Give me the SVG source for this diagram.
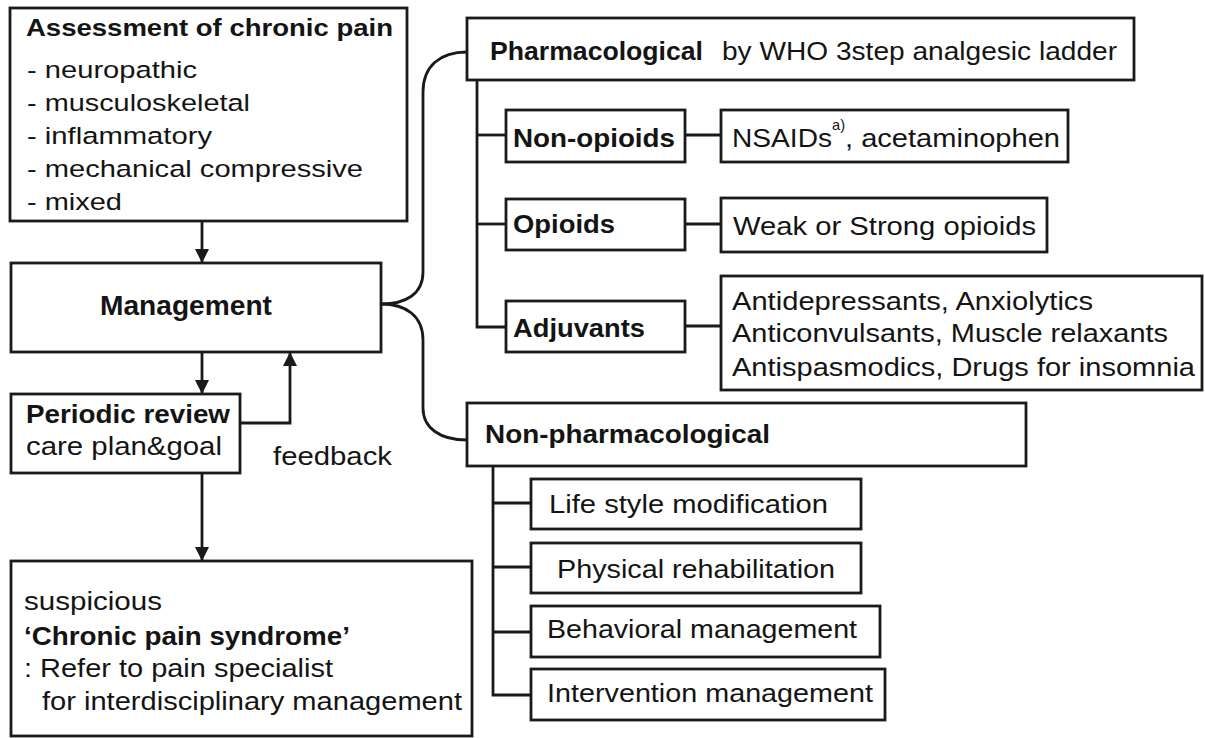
<svg xmlns="http://www.w3.org/2000/svg" width="1205" height="738" viewBox="0 0 1205 738">
<style>
  .box{fill:#fff;stroke:#1a1a1a;stroke-width:2.8}
  .ln{fill:none;stroke:#1a1a1a;stroke-width:2.8}
  text{font-family:"Liberation Sans",Arial,Helvetica,sans-serif;font-size:26px;fill:#141414}
  .b{font-weight:bold}
  .s{font-size:24.5px}
  .m{font-size:27px}
  .sup{font-size:15px}
</style>
<defs>
  <marker id="arr" markerUnits="userSpaceOnUse" markerWidth="14" markerHeight="16" refX="14" refY="7" orient="auto">
    <path d="M0,0 L14,7 L0,14 Z" fill="#1a1a1a"/>
  </marker>
</defs>
<rect width="1205" height="738" fill="#fff"/>

<g id="connectors">
  <line class="ln" x1="202" y1="221" x2="202" y2="263" marker-end="url(#arr)"/>
  <line class="ln" x1="202" y1="352" x2="202" y2="394" marker-end="url(#arr)"/>
  <line class="ln" x1="202" y1="473" x2="202" y2="561" marker-end="url(#arr)"/>
  <path class="ln" d="M240,423 L290,423 L290,352" marker-end="url(#arr)"/>
  <path class="ln" d="M381,304 C406,304 423,294 423,272 L423,92 C423,66 440,52 467,52"/>
  <path class="ln" d="M381,304 C406,304 423,316 423,340 L423,408 C423,428 440,440 467,440"/>
  <path class="ln" d="M477,80 L477,327 L506,327"/>
  <line class="ln" x1="477" y1="135" x2="506" y2="135"/>
  <line class="ln" x1="477" y1="224" x2="506" y2="224"/>
  <line class="ln" x1="685" y1="135" x2="721" y2="135"/>
  <line class="ln" x1="685" y1="224" x2="721" y2="224"/>
  <line class="ln" x1="685" y1="326" x2="721" y2="326"/>
  <path class="ln" d="M493,466 L493,695 L531,695"/>
  <line class="ln" x1="493" y1="503" x2="531" y2="503"/>
  <line class="ln" x1="493" y1="567" x2="531" y2="567"/>
  <line class="ln" x1="493" y1="632" x2="531" y2="632"/>
</g>

<g id="assessment">
  <rect class="box" x="10" y="8" width="397" height="213"/>
  <text class="b s" x="26" y="36" textLength="367" lengthAdjust="spacingAndGlyphs">Assessment of chronic pain</text>
  <text class="s" x="27" y="78" textLength="170" lengthAdjust="spacingAndGlyphs">- neuropathic</text>
  <text class="s" x="27" y="111" textLength="223" lengthAdjust="spacingAndGlyphs">- musculoskeletal</text>
  <text class="s" x="27" y="144" textLength="185" lengthAdjust="spacingAndGlyphs">- inflammatory</text>
  <text class="s" x="27" y="177" textLength="336" lengthAdjust="spacingAndGlyphs">- mechanical compressive</text>
  <text class="s" x="27" y="210" textLength="95" lengthAdjust="spacingAndGlyphs">- mixed</text>
</g>

<g id="management">
  <rect class="box" x="11" y="263" width="370" height="89"/>
  <text class="b m" x="100" y="315" textLength="172" lengthAdjust="spacingAndGlyphs">Management</text>
</g>

<g id="periodic-review">
  <rect class="box" x="11" y="394" width="229" height="79"/>
  <text class="b" x="26" y="423" textLength="204" lengthAdjust="spacingAndGlyphs">Periodic review</text>
  <text x="26" y="455" textLength="196" lengthAdjust="spacingAndGlyphs">care plan&amp;goal</text>
</g>

<g id="feedback-label">
  <text x="273" y="465" textLength="119" lengthAdjust="spacingAndGlyphs">feedback</text>
</g>

<g id="chronic-pain-syndrome">
  <rect class="box" x="11" y="561" width="461" height="175"/>
  <text x="24" y="610" textLength="138" lengthAdjust="spacingAndGlyphs">suspicious</text>
  <text class="b" x="24" y="645" textLength="326" lengthAdjust="spacingAndGlyphs">‘Chronic pain syndrome’</text>
  <text x="24" y="677" textLength="309" lengthAdjust="spacingAndGlyphs">: Refer to pain specialist</text>
  <text x="42" y="710" textLength="420" lengthAdjust="spacingAndGlyphs">for interdisciplinary management</text>
</g>

<g id="pharmacological">
  <rect class="box" x="467" y="18" width="667" height="62"/>
  <text class="b" x="490" y="60" textLength="213" lengthAdjust="spacingAndGlyphs">Pharmacological</text>
  <text x="722" y="60" textLength="395" lengthAdjust="spacingAndGlyphs">by WHO 3step analgesic ladder</text>
</g>

<g id="non-opioids">
  <rect class="box" x="506" y="110" width="179" height="52"/>
  <text class="b" x="513" y="147" textLength="162" lengthAdjust="spacingAndGlyphs">Non-opioids</text>
</g>

<g id="nsaids">
  <rect class="box" x="721" y="110" width="347" height="52"/>
  <text x="732" y="147" textLength="100" lengthAdjust="spacingAndGlyphs">NSAIDs</text>
  <text class="sup" x="832" y="130" textLength="13" lengthAdjust="spacingAndGlyphs">a)</text>
  <text x="845" y="147" textLength="215" lengthAdjust="spacingAndGlyphs">, acetaminophen</text>
</g>

<g id="opioids">
  <rect class="box" x="506" y="199" width="179" height="51"/>
  <text class="b" x="513" y="233" textLength="102" lengthAdjust="spacingAndGlyphs">Opioids</text>
</g>

<g id="weak-strong">
  <rect class="box" x="721" y="198" width="326" height="54"/>
  <text x="733" y="235" textLength="303" lengthAdjust="spacingAndGlyphs">Weak or Strong opioids</text>
</g>

<g id="adjuvants">
  <rect class="box" x="506" y="301" width="179" height="51"/>
  <text class="b" x="513" y="337" textLength="132" lengthAdjust="spacingAndGlyphs">Adjuvants</text>
</g>

<g id="adjuvant-drugs">
  <rect class="box" x="721" y="276" width="481" height="114"/>
  <text x="732" y="310" textLength="361" lengthAdjust="spacingAndGlyphs">Antidepressants, Anxiolytics</text>
  <text x="732" y="342" textLength="436" lengthAdjust="spacingAndGlyphs">Anticonvulsants, Muscle relaxants</text>
  <text x="732" y="376" textLength="463" lengthAdjust="spacingAndGlyphs">Antispasmodics, Drugs for insomnia</text>
</g>

<g id="non-pharmacological">
  <rect class="box" x="467" y="403" width="559" height="63"/>
  <text class="b" x="485" y="443" textLength="285" lengthAdjust="spacingAndGlyphs">Non-pharmacological</text>
</g>

<g id="life-style">
  <rect class="box" x="531" y="479" width="330" height="50"/>
  <text x="549" y="513" textLength="279" lengthAdjust="spacingAndGlyphs">Life style modification</text>
</g>

<g id="physical">
  <rect class="box" x="531" y="543" width="330" height="50"/>
  <text x="557" y="578" textLength="278" lengthAdjust="spacingAndGlyphs">Physical rehabilitation</text>
</g>

<g id="behavioral">
  <rect class="box" x="531" y="606" width="349" height="51"/>
  <text x="547" y="638" textLength="310" lengthAdjust="spacingAndGlyphs">Behavioral management</text>
</g>

<g id="intervention">
  <rect class="box" x="531" y="669" width="354" height="51"/>
  <text x="547" y="702" textLength="326" lengthAdjust="spacingAndGlyphs">Intervention management</text>
</g>
</svg>
